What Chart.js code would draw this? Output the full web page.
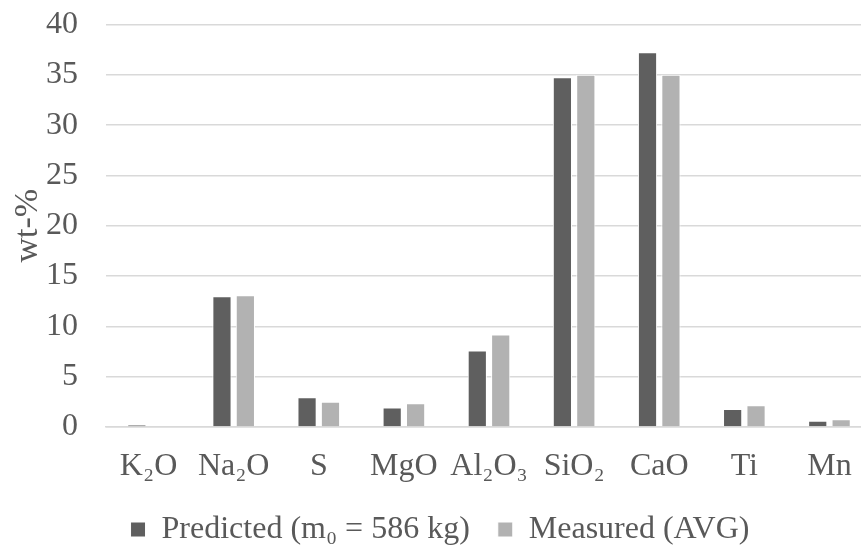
<!DOCTYPE html>
<html>
<head>
<meta charset="utf-8">
<script src="https://cdn.jsdelivr.net/npm/chart.js@4.4.1/dist/chart.umd.min.js"></script>
<style>
  html, body { margin: 0; padding: 0; background: #fff; overflow: hidden; }
  #wrap { width: 900px; height: 545px; }
</style>
</head>
<body>
<div id="wrap"><canvas id="oxideChart"></canvas></div>
<script>
// setup block
const oxides = ['K₂O', 'Na₂O', 'S', 'MgO', 'Al₂O₃', 'SiO₂', 'CaO', 'Ti', 'Mn'];
const predicted = [0.2, 13.0, 2.95, 1.95, 7.6, 34.75, 37.25, 1.8, 0.62];
const measured = [0, 13.1, 2.5, 2.35, 9.2, 35.0, 35.0, 2.15, 0.76];
const yTicks = [0, 5, 10, 15, 20, 25, 30, 35, 40];

const textColor = '#595959';
const serif = "'Liberation Serif', 'Times New Roman', serif";

const data = {
	labels: oxides,
	datasets: [
		{
			label: 'Predicted (m₀ = 586 kg)',
			data: predicted,
			backgroundColor: '#5f5f5f',
			borderColor: '#ffffff',
			borderWidth: 1,
			barPercentage: 0.82,
			categoryPercentage: 0.55,
		},
		{
			label: 'Measured (AVG)',
			data: measured,
			backgroundColor: '#b2b2b2',
			borderColor: '#ffffff',
			borderWidth: 1,
			barPercentage: 0.82,
			categoryPercentage: 0.55,
		},
	],
};

// config block
const config = {
	type: 'bar',
	data: data,
	options: {
		responsive: true,
		maintainAspectRatio: false,
		animation: false,
		layout: {
			padding: { left: 8, right: 28, top: 0, bottom: -10.5 },
		},
		plugins: {
			tooltip: { enabled: false },
			legend: {
				position: 'bottom',
				labels: {
					color: textColor,
					font: { family: serif, size: 32 },
					boxWidth: 15,
					boxHeight: 15,
					padding: 28,
				},
			},
		},
		scales: {
			x: {
				grid: { display: false, drawTicks: false },
				border: { color: '#d9d9d9', width: 1.5 },
				ticks: {
					color: textColor,
					font: { family: serif, size: 32 },
					padding: 20,
					maxRotation: 0,
					autoSkip: false,
				},
				// fixed band between the plot and the legend
				afterFit: (scale) => {
					scale.height = 58.5;
				},
			},
			y: {
				min: 0,
				max: 40,
				afterBuildTicks: (scale) => {
					scale.ticks = yTicks.map((v) => ({ value: v }));
				},
				afterFit: (scale) => {
					scale.width = 98;
					scale.paddingTop = 24.5;
				},
				grid: { color: '#d9d9d9', lineWidth: 1.5, drawTicks: false },
				border: { display: false },
				ticks: {
					color: textColor,
					font: { family: serif, size: 32 },
					padding: 28,
				},
				title: {
					display: true,
					text: 'wt-%',
					color: textColor,
					font: { family: serif, size: 34 },
					padding: 0,
				},
			},
		},
	},
};

// render block
const oxideChart = new Chart(document.getElementById('oxideChart'), config);
</script>
</body>
</html>
